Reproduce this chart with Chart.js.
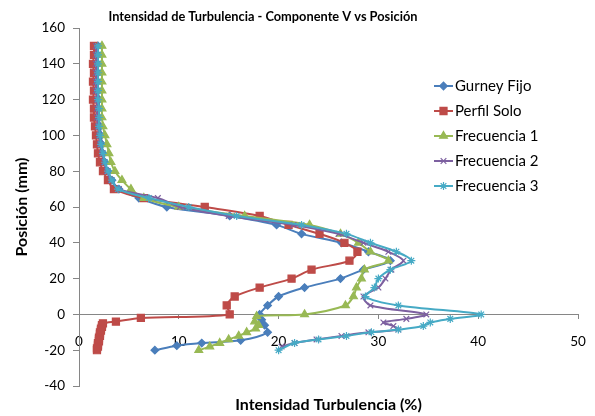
<!DOCTYPE html>
<html>
<head>
<meta charset="utf-8">
<script src="https://cdn.jsdelivr.net/npm/chart.js@4"></script>
<style>
    html, body { margin: 0; padding: 0; background: #fff; }
</style>
</head>
<body>
<canvas id="chart" width="595" height="416"></canvas>
<script>
// ---------- DATOS ----------
const chartTitle = 'Intensidad de Turbulencia - Componente V vs Posición';
const xTitle = 'Intensidad Turbulencia (%)';
const yTitle = 'Posición (mm)';
const seriesNames = ['Gurney Fijo', 'Perfil Solo', 'Frecuencia 1', 'Frecuencia 2', 'Frecuencia 3'];

// Gurney Fijo
const gurneyPos = [150, 145, 140, 135, 130, 125, 120, 115, 110, 105, 100, 95, 90, 85, 80, 75, 70, 65,
    60, 55, 50, 45, 40, 35, 30, 25, 20, 15, 10, 5, 0, -3, -6, -10, -14.5, -16, -17.5, -20];
const gurneyInt = [1.9, 1.9, 1.9, 1.9, 1.9, 1.9, 2.0, 2.0, 2.0, 2.1, 2.2, 2.3, 2.4, 2.6, 2.9, 3.3, 4.0, 6.0,
    8.8, 15.1, 19.8, 22.3, 26.3, 29.0, 31.2, 28.5, 26.2, 22.6, 20.0, 18.9, 18.1, 18.3, 18.6, 18.9, 16.2, 12.3, 9.8, 7.6];

// Perfil Solo
const soloPos = [150, 145, 140, 135, 130, 125, 120, 115, 110, 105, 100, 95, 90, 85, 80, 75, 70, 65,
    60, 55, 50, 45, 40, 35, 30, 25, 20, 15, 10, 5, 0,
    -2, -4, -5, -6, -7, -8, -9, -10, -11, -12, -13, -14, -15, -16, -17, -18, -19, -20];
const soloInt = [1.5, 1.5, 1.4, 1.5, 1.4, 1.5, 1.4, 1.5, 1.5, 1.6, 1.7, 1.8, 1.9, 2.1, 2.4, 2.9, 3.5, 6.5,
    12.6, 18.1, 21.0, 24.1, 26.6, 27.9, 27.1, 23.3, 21.3, 18.1, 15.6, 14.8, 15.1,
    6.2, 3.7, 2.4, 2.3, 2.3, 2.2, 2.2, 2.1, 2.1, 2.1, 2.0, 2.0, 2.0, 1.9, 1.9, 1.9, 1.8, 1.8];

// Frecuencia 1
const frec1Pos = [150, 145, 140, 135, 130, 125, 120, 115, 110, 105, 100, 95, 90, 85, 80, 75, 70, 65,
    60, 55, 50, 45, 40, 35, 30, 25, 20, 15, 10, 5, 0, -1, -4, -6, -8, -10, -12, -14, -16, -18, -20];
const frec1Int = [2.3, 2.3, 2.3, 2.3, 2.3, 2.3, 2.3, 2.3, 2.3, 2.4, 2.6, 2.8, 3.0, 3.2, 3.6, 4.3, 5.2, 6.5,
    10.0, 16.6, 23.1, 26.2, 28.0, 29.2, 31.0, 28.6, 28.3, 27.8, 27.5, 26.7, 22.6, 17.8, 17.6, 18.0, 17.7, 16.8, 16.0, 15.0, 14.1, 13.1, 12.0];

// Frecuencia 2
const frec2Pos = [150, 145, 140, 135, 130, 125, 120, 115, 110, 105, 100, 95, 90, 85, 80, 75, 70, 65,
    60, 55, 50, 45, 40, 35, 30, 25, 20, 15, 10, 5, 0, -2.5, -4.5, -6.5, -8.5, -10, -12, -14, -16, -18];
const frec2Int = [1.7, 1.7, 1.7, 1.7, 1.7, 1.7, 1.8, 1.8, 1.8, 1.9, 2.0, 2.1, 2.3, 2.5, 2.8, 3.2, 4.0, 7.9,
    10.1, 15.0, 21.5, 26.0, 28.5, 31.0, 32.5, 31.3, 30.7, 30.0, 28.5, 29.2, 34.8, 32.8, 30.5, 31.5, 32.0, 29.0, 26.3, 23.8, 21.6, 20.3];

// Frecuencia 3
const frec3Pos = [150, 145, 140, 135, 130, 125, 120, 115, 110, 105, 100, 95, 90, 85, 80, 75, 70, 65,
    60, 55, 50, 45, 40, 35, 30, 25, 20, 15, 10, 5, 0, -2.5, -4.5, -6.5, -8.5, -10, -12, -14, -16, -20];
const frec3Int = [1.9, 1.9, 1.9, 1.9, 1.9, 1.9, 1.9, 2.0, 2.0, 2.0, 2.1, 2.2, 2.4, 2.6, 2.9, 3.3, 3.9, 7.0,
    11.0, 15.8, 22.3, 26.8, 29.2, 31.8, 33.3, 31.2, 30.0, 29.6, 28.7, 32.0, 40.3, 37.2, 35.2, 34.5, 32.0, 29.3, 26.8, 24.0, 21.6, 20.0];

// Ejes
const xTicks = [0, 10, 20, 30, 40, 50];
const yTicks = [-40, -20, 0, 20, 40, 60, 80, 100, 120, 140, 160];

// ---------- GRÁFICO ----------
const toPoints = (pos, val) => pos.map((p, i) => ({ x: val[i], y: p }));

const FONT = 'Lato, "Open Sans", sans-serif';

function serie(label, pos, val, color, style, radius, order) {
    return {
        label: label,
        data: toPoints(pos, val),
        showLine: true,
        borderColor: color,
        backgroundColor: color,
        pointBackgroundColor: color,
        pointBorderColor: color,
        pointStyle: style,
        pointRadius: radius,
        pointBorderWidth: 1.2,
        borderWidth: 2,
        tension: 0.3,
        order: order
    };
}

// Leyenda y título dibujados a mano (dentro del área del gráfico, como en Excel)
const decorPlugin = {
    id: 'decor',
    afterDraw(chart) {
        const ctx = chart.ctx;
        ctx.save();
        ctx.fillStyle = '#000';
        ctx.font = 'bold 12.8px ' + FONT;
        ctx.textAlign = 'center';
        ctx.textBaseline = 'middle';
        ctx.fillText(chartTitle, 263, 17);

        chart.data.datasets.forEach((ds, i) => {
            const y = 86 + i * 25;
            ctx.strokeStyle = ds.borderColor;
            ctx.lineWidth = 2;
            ctx.beginPath();
            ctx.moveTo(434, y);
            ctx.lineTo(453, y);
            ctx.stroke();
            ctx.fillStyle = ds.pointBackgroundColor;
            ctx.strokeStyle = ds.pointBorderColor;
            ctx.lineWidth = 1.2;
            Chart.helpers.drawPoint(ctx, { pointStyle: ds.pointStyle, radius: ds.pointRadius, borderWidth: 1.2 }, 443.5, y);
            ctx.fillStyle = '#000';
            ctx.font = '15px ' + FONT;
            ctx.textAlign = 'left';
            ctx.fillText(ds.label, 455, y);
        });
        ctx.restore();
    }
};

const ctx = document.getElementById('chart').getContext('2d');
new Chart(ctx, {
    type: 'scatter',
    data: {
        datasets: [
            serie(seriesNames[0], gurneyPos, gurneyInt, '#4A7EBB', 'rectRot', 3.8, 5),
            serie(seriesNames[1], soloPos, soloInt, '#BE4B48', 'rect', 5, 4),
            serie(seriesNames[2], frec1Pos, frec1Int, '#98B954', 'triangle', 4.5, 3),
            serie(seriesNames[3], frec2Pos, frec2Int, '#7D60A0', 'crossRot', 4, 2),
            serie(seriesNames[4], frec3Pos, frec3Int, '#46AAC5', 'star', 4, 1)
        ]
    },
    options: {
        responsive: false,
        animation: false,
        layout: { padding: { top: 28, right: 17, left: 0, bottom: 0 } },
        plugins: {
            legend: { display: false },
            title: { display: false },
            tooltip: { enabled: false }
        },
        scales: {
            x: {
                type: 'linear',
                position: { y: 0 },
                min: xTicks[0],
                max: xTicks[xTicks.length - 1],
                afterBuildTicks: s => { s.ticks = xTicks.map(v => ({ value: v })); },
                ticks: { padding: 15, color: '#000', font: { family: FONT, size: 13.5 } },
                grid: { drawOnChartArea: false, tickLength: 4, color: '#868686' },
                border: { color: '#868686' },
                // el padding de las etiquetas no debe encoger el área del gráfico
                afterFit: s => { s.paddingLeft = 8; s.paddingRight = 8; }
            },
            x2: {
                type: 'linear',
                position: 'bottom',
                ticks: { display: false },
                grid: { display: false, drawTicks: false },
                border: { display: false },
                title: {
                    display: true,
                    text: xTitle,
                    color: '#000',
                    font: { family: FONT, size: 16, weight: 'bold' },
                    padding: { top: 8, bottom: 2 }
                },
                afterFit: s => { s.height = 30; }
            },
            y: {
                type: 'linear',
                min: yTicks[0],
                max: yTicks[yTicks.length - 1],
                afterBuildTicks: s => { s.ticks = yTicks.map(v => ({ value: v })); },
                ticks: { padding: 8, color: '#000', font: { family: FONT, size: 13.5 } },
                grid: { drawOnChartArea: false, tickLength: 6, color: '#868686' },
                border: { color: '#868686' },
                title: {
                    display: true,
                    text: yTitle,
                    color: '#000',
                    font: { family: FONT, size: 16, weight: 'bold' },
                    padding: { top: 12, bottom: 0 }
                },
                afterFit: s => { s.width = 79; }
            }
        }
    },
    plugins: [decorPlugin]
});
</script>
</body>
</html>
